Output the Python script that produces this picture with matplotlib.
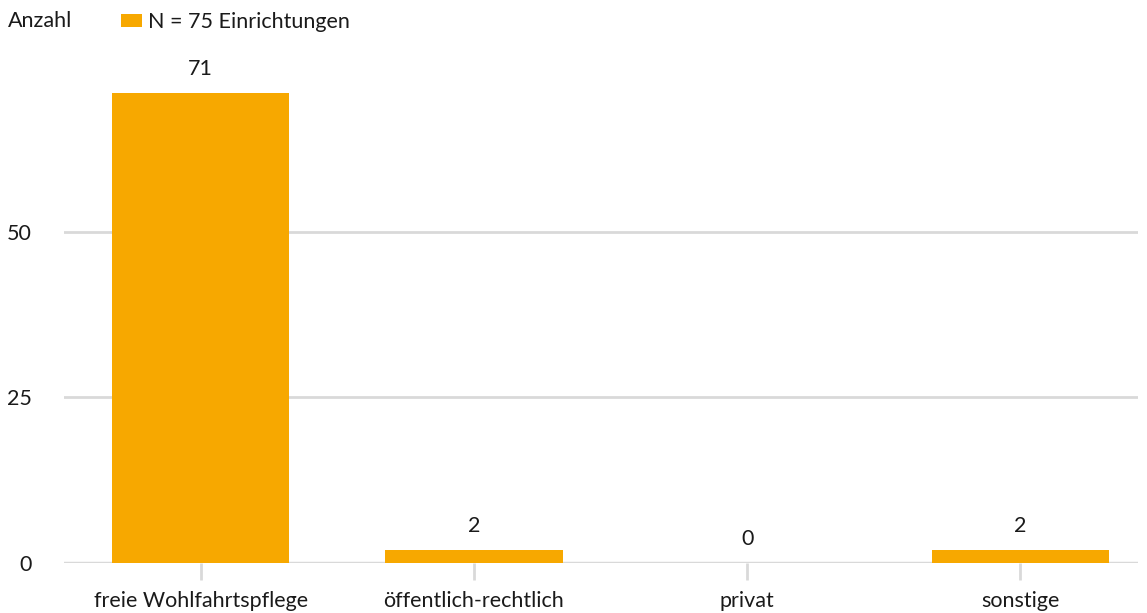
import matplotlib.pyplot as plt

# Trägerschaft der Einrichtungen
kategorien = ['freie Wohlfahrtspflege', 'öffentlich-rechtlich', 'privat', 'sonstige']
anzahl = [71, 2, 0, 2]
y_ticks = [0, 25, 50]
legende = 'N = 75 Einrichtungen'

orange = '#F7A800'
grau = '#D9D9D9'
text_farbe = '#1a1a1a'

plt.rcParams['font.family'] = ['Lato', 'DejaVu Sans']
plt.rcParams['font.size'] = 15.5

fig = plt.figure(figsize=(11.47, 6.13), dpi=100)
ax = fig.add_axes([64 / 1147, 50 / 613, (1138 - 64) / 1147, (563 - 66) / 613])

x = list(range(len(kategorien)))
bars = ax.bar(x, anzahl, width=0.65, color=orange, zorder=3, label=legende)

# Werte über den Balken
for xi, wert in zip(x, anzahl):
    ax.annotate(str(wert), (xi, wert), xytext=(0, 10), textcoords='offset points',
                ha='center', va='bottom', color=text_farbe)

ax.set_xlim(-0.5, 3.43)
ax.set_ylim(0, 75)
ax.set_yticks(y_ticks)
ax.set_xticks(x)
ax.set_xticklabels(kategorien)

ax.grid(axis='y', color=grau, linewidth=2, zorder=0)
for s in ['top', 'right', 'left', 'bottom']:
    ax.spines[s].set_visible(False)
ax.axhline(0, color=grau, linewidth=2.5, zorder=2)

ax.tick_params(axis='y', length=0, pad=23, labelcolor=text_farbe)
ax.tick_params(axis='x', length=12, width=2, color=grau, pad=8, labelcolor=text_farbe)

fig.text(8 / 1147, 1 - 21 / 613, 'Anzahl', ha='left', va='center', color=text_farbe)
leg = fig.legend(handles=[bars], labels=[legende], loc='center left',
                 bbox_to_anchor=(110 / 1147, 1 - 22 / 613), frameon=False,
                 handlelength=1.0, handleheight=0.55, handletextpad=0.25, borderpad=0)
for t in leg.get_texts():
    t.set_color(text_farbe)

fig.savefig('out.png', dpi=100)
